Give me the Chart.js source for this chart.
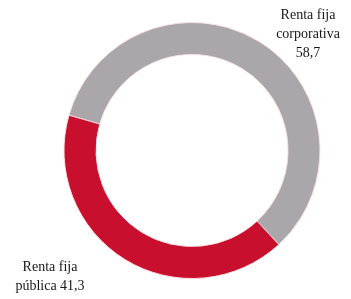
<!DOCTYPE html>
<html>
<head>
<meta charset="utf-8">
<script src="https://cdn.jsdelivr.net/npm/chart.js@4/dist/chart.umd.min.js"></script>
<style>
    html, body { margin: 0; padding: 0; background: #ffffff; }
    #wrap { width: 351px; height: 299px; position: relative; }
</style>
</head>
<body>
<div id="wrap"><canvas id="chart"></canvas></div>
<script>
const categories = ['Renta fija corporativa', 'Renta fija pública'];
const values = [58.7, 41.3];
const labelLines = [
    ['Renta fija', 'corporativa', '58,7'],
    ['Renta fija', 'pública 41,3']
];
const colors = ['#aaa7aa', '#c8102e'];

// labels sit outside the ring, top-right and bottom-left
const outsideLabels = {
    id: 'outsideLabels',
    afterDraw(chart) {
        const ctx = chart.ctx;
        ctx.save();
        ctx.font = '14px "Liberation Serif", "DejaVu Serif", serif';
        ctx.fillStyle = '#161616';
        ctx.textAlign = 'center';
        ctx.textBaseline = 'middle';
        const spots = [
            { x: 308, y: 15 },
            { x: 50, y: 267 }
        ];
        labelLines.forEach((lines, i) => {
            lines.forEach((line, j) => {
                ctx.fillText(line, spots[i].x, spots[i].y + j * 19);
            });
        });
        ctx.restore();
    }
};

new Chart(document.getElementById('chart'), {
    type: 'doughnut',
    data: {
        labels: categories,
        datasets: [{
            data: values,
            backgroundColor: colors,
            borderColor: 'rgba(255, 225, 230, 0.9)',
            borderWidth: 1
        }]
    },
    options: {
        responsive: true,
        maintainAspectRatio: false,
        animation: false,
        cutout: '75%',
        rotation: 286,
        layout: { padding: { left: 63, right: 30, top: 22, bottom: 20 } },
        plugins: {
            legend: { display: false },
            tooltip: { enabled: false }
        }
    },
    plugins: [outsideLabels]
});
</script>
</body>
</html>
